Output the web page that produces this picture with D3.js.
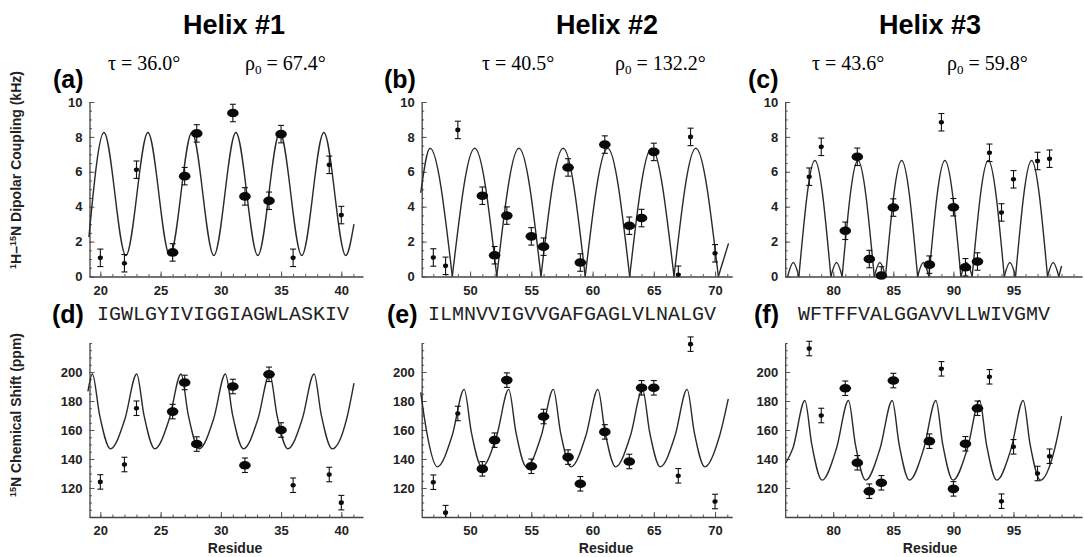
<!DOCTYPE html>
<html>
<head>
<meta charset="utf-8">
<script src="https://cdn.jsdelivr.net/npm/d3@7"></script>
<style>
  body { margin: 0; background: #fff; }
  svg { display: block; }
</style>
</head>
<body>
<script>
// residue numbers of the measured sites, one list per helix
var residues1 = [20, 22, 23, 26, 27, 28, 31, 32, 34, 35, 36, 39, 40];
var residues2 = [47, 48, 49, 51, 52, 53, 55, 56, 58, 59, 61, 63, 64, 65, 67, 68, 70];
var residues3 = [78, 79, 81, 82, 83, 84, 85, 88, 89, 90, 91, 92, 93, 94, 95, 97, 98];

// 1 = big marker, 0 = small marker
var big1 = [0, 0, 0, 1, 1, 1, 1, 1, 1, 1, 0, 0, 0];
var big2 = [0, 0, 0, 1, 1, 1, 1, 1, 1, 1, 1, 1, 1, 1, 0, 0, 0];
var big3 = [0, 0, 1, 1, 1, 1, 1, 1, 0, 1, 1, 1, 0, 0, 0, 0, 0];

// 1H-15N dipolar coupling (kHz)
var couplingA = [1.07, 0.76, 6.12, 1.38, 5.75, 8.2, 9.37, 4.59, 4.34, 8.16, 1.07, 6.4, 3.52];
var couplingB = [1.09, 0.61, 8.4, 4.63, 1.22, 3.49, 2.3, 1.71, 6.25, 0.8, 7.56, 2.91, 3.35, 7.14, 0.1, 8.0, 1.33];
var couplingC = [5.72, 7.43, 2.62, 6.86, 1.0, 0.06, 3.95, 0.68, 8.84, 3.97, 0.53, 0.86, 7.09, 3.67, 5.57, 6.62, 6.75];

// 15N chemical shift (ppm)
var shiftD = [124.2, 136.2, 175.0, 172.7, 192.8, 150.3, 190.0, 135.7, 198.4, 160.0, 121.9, 129.3, 109.9];
var shiftE = [124.0, 103.0, 171.4, 133.2, 153.0, 194.4, 135.0, 169.3, 141.3, 122.9, 158.7, 138.3, 189.1, 189.1, 128.4, 219.2, 110.7];
var shiftF = [216.2, 170.0, 188.8, 137.4, 117.8, 123.6, 194.1, 152.3, 202.2, 119.4, 150.5, 175.0, 196.7, 110.9, 148.4, 130.0, 141.9];

var couplingErr = 0.5;
var shiftErr = 5;

// fitted PISA waves as [residue, value]
var curveA = [[19.05, 2.26], [20.3, 8.25], [22.12, 1.2], [23.95, 8.25], [25.77, 1.2], [27.6, 8.25], [29.42, 1.2],
  [31.25, 8.25], [33.07, 1.2], [34.9, 8.25], [36.72, 1.2], [38.55, 8.25], [40.37, 1.2], [41.05, 3.0]];
var curveB = [[45.97, 4.8], [46.73, 7.35], [48.55, 0], [50.38, 7.35], [52.18, 0], [53.99, 7.35], [55.79, 0],
  [57.6, 7.35], [59.4, 0], [61.23, 7.35], [63.03, 0], [64.82, 7.35], [66.65, 0], [68.43, 7.35], [70.27, 0], [71.1, 1.9]];
var curveC = [[76.2, 0], [76.67, 0.8], [77.14, 0], [78.47, 6.65], [79.8, 0], [80.27, 0.8], [80.74, 0], [82.05, 6.65],
  [83.41, 0], [83.88, 0.8], [84.35, 0], [85.69, 6.65], [87.02, 0], [87.49, 0.8], [87.96, 0], [89.29, 6.65],
  [90.62, 0], [91.09, 0.8], [91.56, 0], [92.9, 6.65], [94.23, 0], [94.7, 0.8], [95.17, 0], [96.5, 6.65],
  [97.83, 0], [98.3, 0.8], [98.77, 0], [99.0, 0.6]];
var curveD = [[18.97, 186.6], [19.34, 198.6], [19.94, 170.2], [20.84, 147.0], [22.04, 167.6], [23.02, 198.6],
  [23.62, 170.2], [24.52, 147.0], [25.72, 167.6], [26.70, 198.6], [27.30, 170.2], [28.20, 147.0], [29.40, 167.6],
  [30.38, 198.6], [30.98, 170.2], [31.88, 147.0], [33.08, 167.6], [34.06, 198.6], [34.66, 170.2], [35.56, 147.0],
  [36.76, 167.6], [37.74, 198.6], [38.34, 170.2], [39.24, 147.0], [40.44, 167.6], [41.05, 192.4]];
var curveE = [[45.97, 186.0], [46.46, 158.6], [47.33, 134.6], [48.53, 156.0], [49.52, 188.0], [50.10, 158.6],
  [50.97, 134.6], [52.17, 156.0], [53.16, 188.0], [53.74, 158.6], [54.61, 134.6], [55.81, 156.0], [56.80, 188.0],
  [57.38, 158.6], [58.25, 134.6], [59.45, 156.0], [60.44, 188.0], [61.02, 158.6], [61.89, 134.6], [63.09, 156.0],
  [64.08, 188.0], [64.66, 158.6], [65.53, 134.6], [66.73, 156.0], [67.72, 188.0], [68.30, 158.6], [69.17, 134.6],
  [70.37, 156.0], [71.08, 181.5]];
var curveF = [[76.06, 137.4], [76.64, 147.4], [77.64, 180.3], [78.21, 150.1], [79.07, 125.4], [80.27, 147.4],
  [81.27, 180.3], [81.84, 150.1], [82.70, 125.4], [83.90, 147.4], [84.91, 180.3], [85.48, 150.1], [86.34, 125.4],
  [87.54, 147.4], [88.54, 180.3], [89.11, 150.1], [89.97, 125.4], [91.17, 147.4], [92.18, 180.3], [92.75, 150.1],
  [93.61, 125.4], [94.81, 147.4], [95.81, 180.3], [96.38, 150.1], [97.24, 125.4], [98.44, 147.4], [99.0, 169.5]];

// tick labels
var xTicks1 = [20, 25, 30, 35, 40];
var xTicks2 = [50, 55, 60, 65, 70];
var xTicks3 = [80, 85, 90, 95];
var couplingTicks = [0, 2, 4, 6, 8, 10];
var shiftTicks = [120, 140, 160, 180, 200];

var helixNames = ["Helix #1", "Helix #2", "Helix #3"];
var tiltAngles = ["36.0", "40.5", "43.6"];
var rotAngles = ["67.4", "132.2", "59.8"];
var sequences = ["IGWLGYIVIGGIAGWLASKIV", "ILMNVVIGVVGAFGAGLVLNALGV", "WFTFFVALGGAVVLLWIVGMV"];

var svgWidth = 1084;
var svgHeight = 557;
var sansFont = "'Liberation Sans', Arial, sans-serif";

var svg = d3.select("body")
            .append("svg")
            .attr("width", svgWidth)
            .attr("height", svgHeight);

// column geometry
var cols = [
  {xDomain: [19.1, 41.8], xRange: [89.5, 363], ticks: xTicks1, minor: d3.range(20, 42)},
  {xDomain: [46.05, 71.4], xRange: [421.7, 732.2], ticks: xTicks2, minor: d3.range(47, 72)},
  {xDomain: [76.0, 100.7], xRange: [785.2, 1082], ticks: xTicks3, minor: d3.range(77, 101)}
];

var panels = [
  {col: 0, row: 0, res: residues1, vals: couplingA, big: big1, curve: curveA, cusp: false},
  {col: 1, row: 0, res: residues2, vals: couplingB, big: big2, curve: curveB, cusp: true},
  {col: 2, row: 0, res: residues3, vals: couplingC, big: big3, curve: curveC, cusp: true},
  {col: 0, row: 1, res: residues1, vals: shiftD, big: big1, curve: curveD, cusp: false},
  {col: 1, row: 1, res: residues2, vals: shiftE, big: big2, curve: curveE, cusp: false},
  {col: 2, row: 1, res: residues3, vals: shiftF, big: big3, curve: curveF, cusp: false}
];

var rows = [
  {yDomain: [0, 10], yRange: [276.5, 102], ticks: couplingTicks, minor: d3.range(0, 10.01, 0.5), err: couplingErr},
  {yDomain: [100, 220], yRange: [517, 343], ticks: shiftTicks, minor: d3.range(100, 221, 5), err: shiftErr}
];

panels.forEach(function(p) {
  drawPanel(p, cols[p.col], rows[p.row]);
});

function drawPanel(p, c, r) {
  var x = d3.scaleLinear().domain(c.xDomain).range(c.xRange);
  var y = d3.scaleLinear().domain(r.yDomain).range(r.yRange);
  var g = svg.append("g");

  // minor ticks, pointing inside
  var xm = g.append("g")
            .attr("transform", "translate(0," + r.yRange[0] + ")")
            .call(d3.axisBottom(x).tickValues(c.minor).tickSize(-2.5).tickFormat(""));
  xm.select(".domain").remove();
  var ym = g.append("g")
            .attr("transform", "translate(" + c.xRange[0] + ",0)")
            .call(d3.axisLeft(y).tickValues(r.minor).tickSize(-2.5).tickFormat(""));
  ym.select(".domain").remove();

  var xAxis = g.append("g")
               .attr("transform", "translate(0," + r.yRange[0] + ")")
               .call(d3.axisBottom(x).tickValues(c.ticks).tickSize(-5).tickSizeOuter(0).tickPadding(9));
  var yAxis = g.append("g")
                .attr("transform", "translate(" + c.xRange[0] + ",0)")
                .call(d3.axisLeft(y).tickValues(r.ticks).tickSize(-5).tickSizeOuter(0).tickPadding(7));

  g.selectAll(".tick line").attr("stroke", "#555").attr("stroke-width", 1);
  g.selectAll(".domain").attr("stroke", "#444").attr("stroke-width", 1.3);
  g.selectAll(".tick text")
   .attr("font-family", sansFont)
   .attr("font-weight", "bold")
   .attr("font-size", 13)
   .attr("fill", "#222");

  // fitted wave; split at the zero cusps where needed
  var segs = [];
  var cur = [];
  p.curve.forEach(function(pt) {
    cur.push(pt);
    if (p.cusp && pt[1] === 0 && cur.length > 1) {
      segs.push(cur);
      cur = [pt];
    }
  });
  if (cur.length > 1) segs.push(cur);

  var line = d3.line()
               .x(function(d) { return x(d[0]); })
               .y(function(d) { return y(d[1]); })
               .curve(d3.curveMonotoneX);

  g.selectAll("path.wave")
   .data(segs)
   .enter()
   .append("path")
   .attr("class", "wave")
   .attr("d", line)
   .attr("fill", "none")
   .attr("stroke", "#2a2a2a")
   .attr("stroke-width", 1.4);

  // error bars and points
  var pts = p.res.map(function(d, i) { return {r: d, v: p.vals[i], big: p.big[i]}; });
  var lo = r.yDomain[0];

  var bars = g.selectAll("g.bar")
              .data(pts)
              .enter()
              .append("g")
              .attr("class", "bar")
              .attr("stroke", "#111")
              .attr("stroke-width", 1.1);
  bars.append("line")
      .attr("x1", function(d) { return x(d.r); })
      .attr("x2", function(d) { return x(d.r); })
      .attr("y1", function(d) { return y(d.v + r.err); })
      .attr("y2", function(d) { return y(Math.max(lo, d.v - r.err)); });
  bars.append("line")
      .attr("x1", function(d) { return x(d.r) - 3; })
      .attr("x2", function(d) { return x(d.r) + 3; })
      .attr("y1", function(d) { return y(d.v + r.err); })
      .attr("y2", function(d) { return y(d.v + r.err); });
  bars.filter(function(d) { return d.v - r.err >= lo; })
      .append("line")
      .attr("x1", function(d) { return x(d.r) - 3; })
      .attr("x2", function(d) { return x(d.r) + 3; })
      .attr("y1", function(d) { return y(d.v - r.err); })
      .attr("y2", function(d) { return y(d.v - r.err); });

  g.selectAll("ellipse")
   .data(pts)
   .enter()
   .append("ellipse")
   .attr("cx", function(d) { return x(d.r); })
   .attr("cy", function(d) { return y(d.v); })
   .attr("rx", function(d) { return d.big ? 5.8 : 2.6; })
   .attr("ry", function(d) { return d.big ? 4.3 : 2.3; })
   .attr("fill", "#0a0a0a");
}

// helix titles
var titleX = [234, 607, 930];
svg.selectAll("text.title")
   .data(helixNames)
   .enter()
   .append("text")
   .attr("class", "title")
   .attr("x", function(d, i) { return titleX[i]; })
   .attr("y", 34)
   .attr("text-anchor", "middle")
   .attr("font-family", sansFont)
   .attr("font-weight", "bold")
   .attr("font-size", 27)
   .text(function(d) { return d; });

// tilt and rotation angles
var tauX = [108, 482, 812];
var rhoX = [245, 615, 947];
tiltAngles.forEach(function(t, i) {
  svg.append("text")
     .attr("x", tauX[i])
     .attr("y", 70)
     .attr("font-family", "'Liberation Serif', 'Times New Roman', serif")
     .attr("font-size", 20)
     .text("\u03c4 = " + t + "\u00b0");
  var rt = svg.append("text")
              .attr("x", rhoX[i])
              .attr("y", 70)
              .attr("font-family", "'Liberation Serif', 'Times New Roman', serif")
              .attr("font-size", 20);
  rt.append("tspan").text("\u03c1");
  rt.append("tspan").attr("font-size", 13).attr("dy", 4).text("0");
  rt.append("tspan").attr("dy", -4).text(" = " + rotAngles[i] + "\u00b0");
});

// panel letters
var letters = [["(a)", 53, 88], ["(b)", 384, 88], ["(c)", 748, 88], ["(d)", 52, 323], ["(e)", 387, 323], ["(f)", 754, 323]];
svg.selectAll("text.letter")
   .data(letters)
   .enter()
   .append("text")
   .attr("class", "letter")
   .attr("x", function(d) { return d[1]; })
   .attr("y", function(d) { return d[2]; })
   .attr("font-family", sansFont)
   .attr("font-weight", "bold")
   .attr("font-size", 25)
   .text(function(d) { return d[0]; });

// amino acid sequences
var seqX = [97, 428, 798];
svg.selectAll("text.seq")
   .data(sequences)
   .enter()
   .append("text")
   .attr("class", "seq")
   .attr("x", function(d, i) { return seqX[i]; })
   .attr("y", 320)
   .attr("font-family", "'Liberation Mono', 'Courier New', monospace")
   .attr("font-size", 20)
   .attr("fill", "#222")
   .text(function(d) { return d; });

// x titles
var residueX = [235, 606, 930];
residueX.forEach(function(cx) {
  svg.append("text")
     .attr("x", cx)
     .attr("y", 553)
     .attr("text-anchor", "middle")
     .attr("font-family", sansFont)
     .attr("font-weight", "bold")
     .attr("font-size", 14)
     .attr("fill", "#222")
     .text("Residue");
});

// y titles with superscript isotopes
function yTitle(cy, parts) {
  var t = svg.append("text")
             .attr("transform", "translate(21," + cy + ") rotate(-90)")
             .attr("text-anchor", "middle")
             .attr("font-family", sansFont)
             .attr("font-weight", "bold")
             .attr("font-size", 14)
             .attr("fill", "#222");
  var up = false;
  parts.forEach(function(pt) {
    var s = t.append("tspan").text(pt[0]);
    if (pt[1] && !up) { s.attr("font-size", 9).attr("dy", -5); up = true; }
    else if (!pt[1] && up) { s.attr("dy", 5); up = false; }
  });
}
yTitle(170, [["1", true], ["H\u2013", false], ["15", true], ["N Dipolar Coupling (kHz)", false]]);
yTitle(415, [["15", true], ["N Chemical Shift (ppm)", false]]);
</script>
</body>
</html>
